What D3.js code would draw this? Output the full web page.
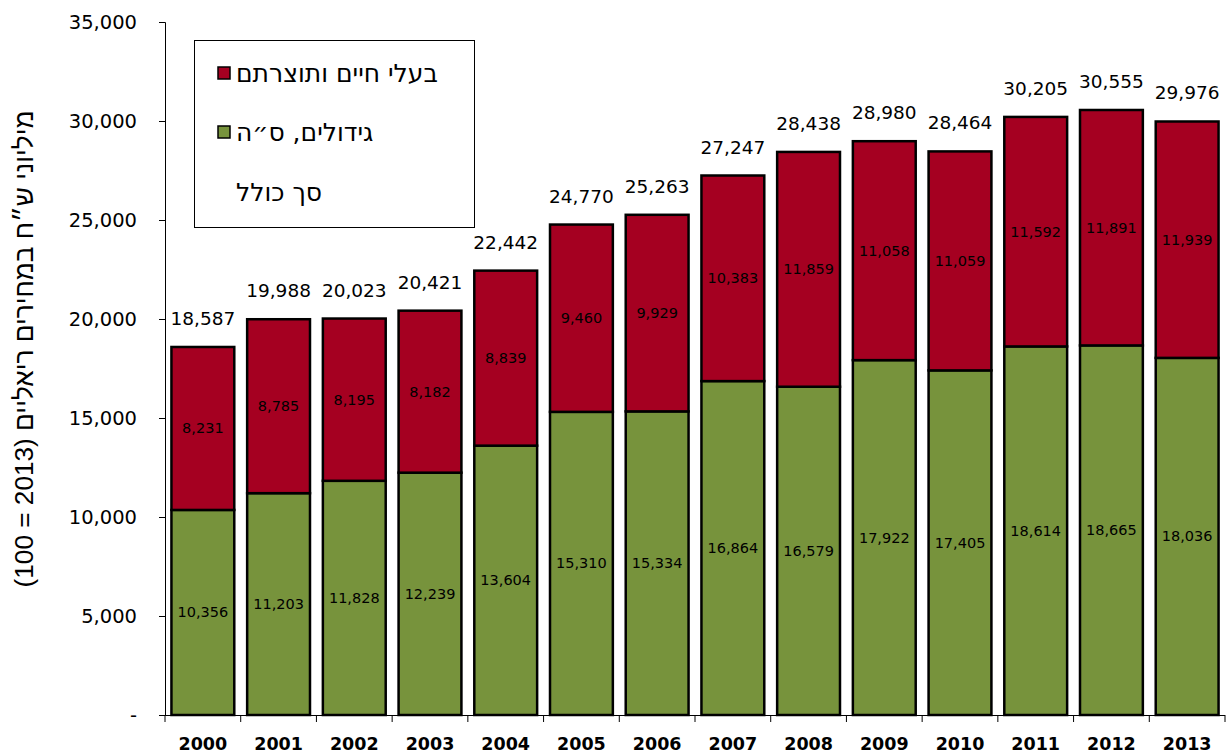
<!DOCTYPE html>
<html><head><meta charset="utf-8">
<script src="https://cdn.jsdelivr.net/npm/d3@7"></script>
<style>body{margin:0;background:#fff;} svg{display:block;}</style>
</head><body>
<svg id="c" width="1229" height="753"></svg>
<script>
const years = ["2000","2001","2002","2003","2004","2005","2006","2007","2008","2009","2010","2011","2012","2013"];
const crops = [10356,11203,11828,12239,13604,15310,15334,16864,16579,17922,17405,18614,18665,18036];
const livestock = [8231,8785,8195,8182,8839,9460,9929,10383,11859,11058,11059,11592,11891,11939];
const totals = [18587,19988,20023,20421,22442,24770,25263,27247,28438,28980,28464,30205,30555,29976];
const yTicks = [0,5000,10000,15000,20000,25000,30000,35000];
const seriesNames = ["בעלי חיים ותוצרתם","גידולים, ס״ה","סך כולל"];
const yTitle = "מיליוני ש״ח במחירים ריאליים (2013 = 100)";

const svg = d3.select("#c");
const font = "'DejaVu Sans',sans-serif";
const x = d3.scaleBand().domain(years).range([165,1225]).paddingInner(0.17).paddingOuter(0.085);
const y = d3.scaleLinear().domain([0,35000]).range([715,22]);
const fmt = d3.format(",");
const RED="#A50021", GREEN="#77933C";

// y axis
const ya = svg.append("g").attr("transform","translate(165,0)")
  .call(d3.axisLeft(y).tickValues(yTicks).tickSize(6).tickPadding(22).tickFormat(d=>d===0?"-":fmt(d)));
ya.select(".domain").attr("stroke","#000").attr("stroke-width",1);
ya.selectAll(".tick line").attr("stroke","#000");
ya.selectAll("text").attr("font-family",font).attr("font-size",19.5).attr("fill","#000");

// x axis line & ticks between categories
svg.append("line").attr("x1",165).attr("x2",1225).attr("y1",715.5).attr("y2",715.5).attr("stroke","#000");
const bounds = d3.range(years.length+1).map(i=>165+i*(1060/years.length));
svg.selectAll(".xt").data(bounds).join("line").attr("x1",d=>d).attr("x2",d=>d)
  .attr("y1",715).attr("y2",722).attr("stroke","#000");
svg.selectAll(".xl").data(years).join("text")
  .attr("x",d=>x(d)+x.bandwidth()/2).attr("y",750).attr("text-anchor","middle")
  .attr("font-family",font).attr("font-size",17.5).attr("font-weight","bold").text(d=>d);

// bars
const g = svg.append("g");
g.selectAll(".g").data(years).join("rect")
  .attr("x",d=>x(d)).attr("width",x.bandwidth())
  .attr("y",(d,i)=>y(crops[i])).attr("height",(d,i)=>y(0)-y(crops[i]))
  .attr("fill",GREEN).attr("stroke","#000").attr("stroke-width",2.5);
g.selectAll(".r").data(years).join("rect")
  .attr("x",d=>x(d)).attr("width",x.bandwidth())
  .attr("y",(d,i)=>y(crops[i]+livestock[i])).attr("height",(d,i)=>y(crops[i])-y(crops[i]+livestock[i]))
  .attr("fill",RED).attr("stroke","#000").attr("stroke-width",2.5);

// labels
svg.selectAll(".lg").data(years).join("text")
  .attr("x",d=>x(d)+x.bandwidth()/2).attr("y",(d,i)=>y(crops[i]/2)+5).attr("text-anchor","middle")
  .attr("font-family",font).attr("font-size",14.5).text((d,i)=>fmt(crops[i]));
svg.selectAll(".lr").data(years).join("text")
  .attr("x",d=>x(d)+x.bandwidth()/2).attr("y",(d,i)=>y(crops[i]+livestock[i]/2)+5).attr("text-anchor","middle")
  .attr("font-family",font).attr("font-size",14.5).text((d,i)=>fmt(livestock[i]));
svg.selectAll(".lt").data(years).join("text")
  .attr("x",d=>x(d)+x.bandwidth()/2).attr("y",(d,i)=>y(totals[i])-22).attr("text-anchor","middle")
  .attr("font-family",font).attr("font-size",18.5).text((d,i)=>fmt(totals[i]));

// y title (font size fitted to reference length)
const yt = svg.append("text").attr("transform","translate(33,349) rotate(-90)").attr("text-anchor","middle")
  .attr("font-family","'Liberation Sans','DejaVu Sans',sans-serif").attr("font-size",20).attr("direction","rtl")
  .text(yTitle);
const len = yt.node().getComputedTextLength();
yt.attr("font-size", 20*477/len);

// legend
const lg = svg.append("g");
lg.append("rect").attr("x",194.5).attr("y",40.5).attr("width",280).attr("height",187).attr("fill","#fff").attr("stroke","#000");
const items = [{n:seriesNames[0],c:RED,y:73},{n:seriesNames[1],c:GREEN,y:132},{n:seriesNames[2],c:null,y:192}];
items.forEach(it=>{
  if(it.c) lg.append("rect").attr("x",218).attr("y",it.y-6).attr("width",12).attr("height",12).attr("fill",it.c).attr("stroke","#000").attr("stroke-width",1.5);
  lg.append("text").attr("x",236).attr("y",it.y+9).attr("text-anchor","start").attr("direction","ltr")
    .attr("font-family",font).attr("font-size",25).text(it.n);
});
</script>
</body></html>
